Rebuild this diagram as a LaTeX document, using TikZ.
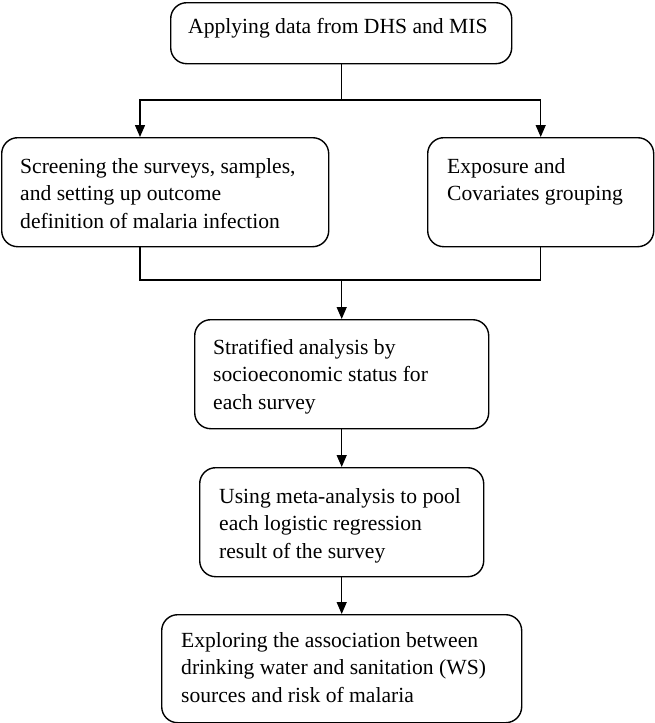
\documentclass[tikz,border=0pt]{standalone}
\usepackage{fontspec}
\setmainfont{Liberation Serif}
\usetikzlibrary{arrows.meta}
\begin{document}
\begin{tikzpicture}[x=1pt,y=-1pt,
  box/.style={draw, line width=1.4pt, rounded corners=16pt, inner sep=0pt, anchor=north west},
  txt/.style={inner sep=0pt, anchor=base west, align=left, font=\fontsize{21.6}{27.5}\selectfont},
  line/.style={line width=1.4pt},
  arr/.style={line width=1.4pt, -{Triangle[length=12pt,width=10pt]}}]
\useasboundingbox (0,0) rectangle (654,723);
% boxes
\node[box, minimum width=341pt, minimum height=61pt] (top) at (170,2) {};
\node[box, minimum width=327pt, minimum height=109pt] (left) at (1,137) {};
\node[box, minimum width=226pt, minimum height=109pt] (right) at (427,137) {};
\node[box, minimum width=294pt, minimum height=109pt] (strat) at (194,319) {};
\node[box, minimum width=284pt, minimum height=109pt] (meta) at (199,467) {};
\node[box, minimum width=360pt, minimum height=108pt] (explore) at (161,614) {};
% texts (anchored at baseline of last line)
\node[txt] (ttop) at (188,33) {Applying data from DHS and MIS};
\node[txt] (tleft) at (20,228) {Screening the surveys, samples,\\and setting up outcome\\definition of malaria infection};
\node[txt] (tright) at (447,200.5) {Exposure and\\Covariates grouping};
\node[txt] (tstrat) at (213,409) {Stratified analysis by\\socioeconomic status for\\each survey};
\node[txt] (tmeta) at (219,558) {Using meta-analysis to pool\\each logistic regression\\result of the survey};
\node[txt] (texplore) at (181,702) {Exploring the association between\\drinking water and sanitation (WS)\\sources and risk of malaria};
% connectors
\coordinate (j1) at (top.south |- 0,100);
\coordinate (lin) at (140,137);
\coordinate (lout) at (140,246);
\coordinate (j2) at (strat.north |- 0,280);
\draw[line] (top.south) -- (j1);
\draw[arr] (j1) -| (lin);
\draw[arr] (j1) -| (right.north);
\draw[line] (lout) |- (j2);
\draw[line] (right.south) |- (j2);
\draw[arr] (j2) -- (strat.north);
\draw[arr] (strat.south) -- (meta.north);
\draw[arr] (meta.south) -- (explore.north);
\end{tikzpicture}
\end{document}
